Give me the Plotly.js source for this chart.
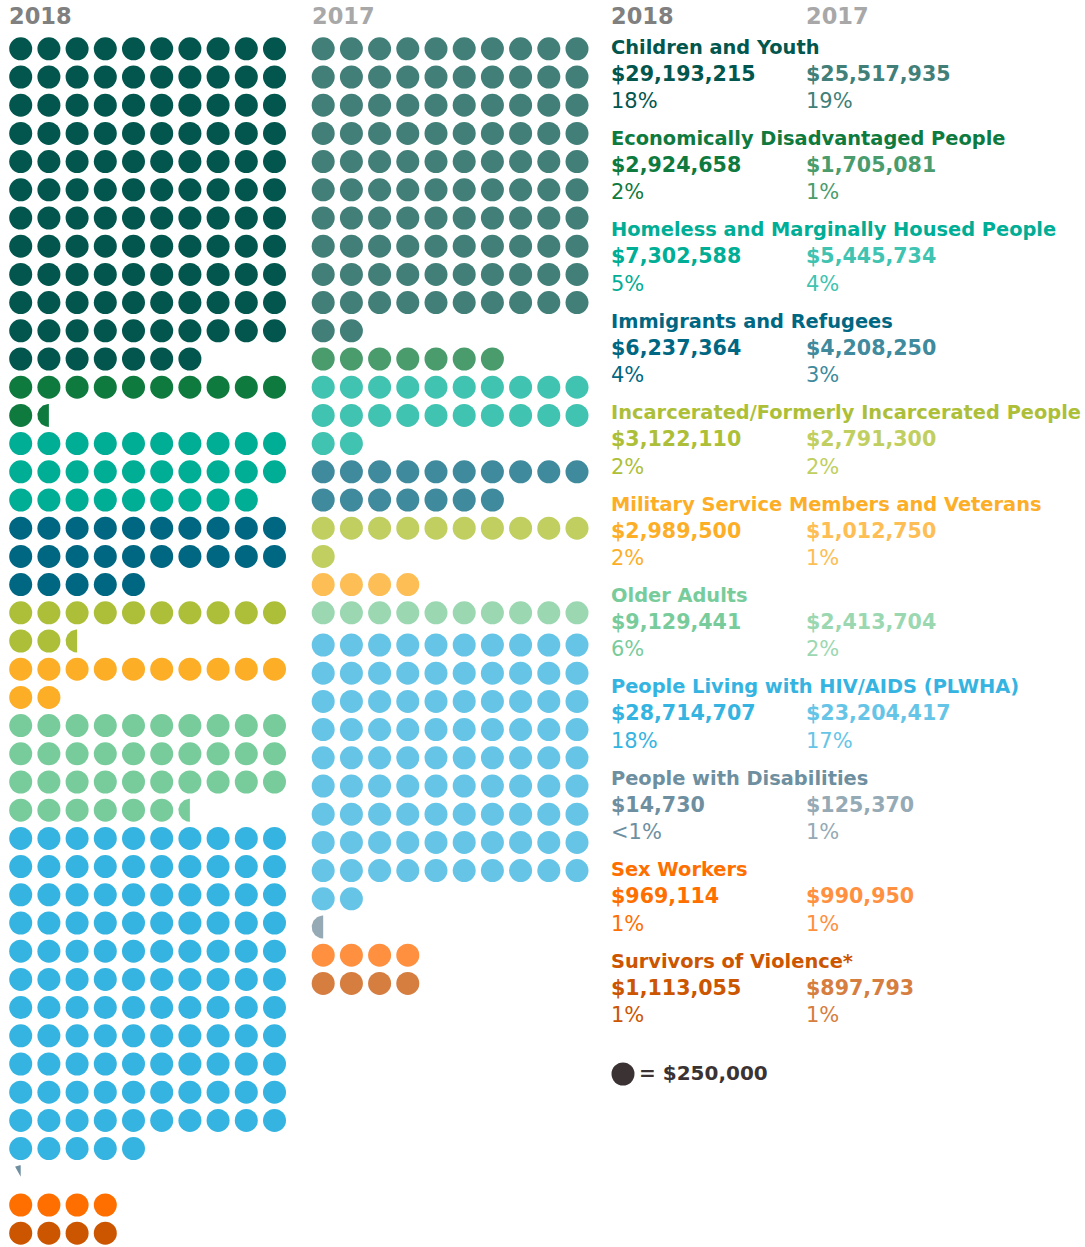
<!DOCTYPE html>
<html><head><meta charset="utf-8">
<script src="https://cdn.plot.ly/plotly-3.0.1.min.js"></script>
<style>html,body{margin:0;padding:0;background:#fff}#chart{width:1085px;height:1247px}</style>
</head><body><div id="chart"></div>
<script>
// ---- data ----
const categories = ["Children and Youth","Economically Disadvantaged People","Homeless and Marginally Housed People","Immigrants and Refugees","Incarcerated/Formerly Incarcerated People","Military Service Members and Veterans","Older Adults","People Living with HIV/AIDS (PLWHA)","People with Disabilities","Sex Workers","Survivors of Violence*"];
const amounts2018 = [29193215, 2924658, 7302588, 6237364, 3122110, 2989500, 9129441, 28714707, 14730, 969114, 1113055];
const amounts2017 = [25517935, 1705081, 5445734, 4208250, 2791300, 1012750, 2413704, 23204417, 125370, 990950, 897793];
const pct2018 = ["18%","2%","5%","4%","2%","2%","6%","18%","<1%","1%","1%"];
const pct2017 = ["19%","1%","4%","3%","2%","1%","2%","17%","1%","1%","1%"];
// dots as drawn in the picture (1 dot = $250,000; fractional part = partial dot)
const dots2018 = [117, 11.5, 29, 25, 12.5, 12, 36.5, 115, 0.08, 4, 4];
const dots2017 = [102, 7, 22, 17, 11, 4, 10, 92, 0.5, 4, 4];
const colors2018 = ["#02564d","#0f7a3e","#00ad95","#006783","#adbf38","#fdae27","#78cc9b","#36b4e1","#6e8fa0","#ff6f00","#cc5500"];
const colors2017 = ["#417f78","#4a9c6d","#40c3b0","#3f8a9d","#c0cf60","#fdbe55","#9bd8b1","#66c5e7","#95aab5","#ff9040","#d67d40"];
const unitLabel = "= $250,000";
const yearLabels = ["2018","2017"];

// ---- layout constants ----
const W = 1085, H = 1247;
const STEP = 28.2, D = 23, R = D/2;
const Y0 = 48.8;
const X0 = {"2018": 20.7, "2017": 323.2};
// extra vertical gap (px) inserted before a category's block, per column
const GAP = {"2018": {}, "2017": {7: 4}};
const FONT = "DejaVu Sans, Verdana, sans-serif";

const traces = [];
const fmt = v => "$" + v.toLocaleString("en-US");

function buildYear(year, dots, colors) {
  let row = 0, extra = 0;
  dots.forEach((n, ci) => {
    extra += (GAP[year][ci] || 0);
    const full = Math.floor(n + 1e-9);
    const frac = n - full;
    const xs = [], ys = [];
    for (let i = 0; i < full; i++) {
      xs.push(X0[year] + (i % 10) * STEP);
      ys.push(Y0 + extra + (row + Math.floor(i / 10)) * STEP);
    }
    traces.push({type:"scatter", mode:"markers", x:xs, y:ys, hoverinfo:"skip",
      marker:{size:D, color:colors[ci], line:{width:0}}});
    if (frac > 0.001) {
      const cx = X0[year] + (full % 10) * STEP;
      const cy = Y0 + extra + (row + Math.floor(full / 10)) * STEP;
      const px = [cx], py = [cy];
      const steps = 40;
      for (let k = 0; k <= steps; k++) {
        const t = 2 * Math.PI * frac * k / steps;
        px.push(cx - R * Math.sin(t));
        py.push(cy - R * Math.cos(t));
      }
      px.push(cx); py.push(cy);
      traces.push({type:"scatter", mode:"lines", x:px, y:py, fill:"toself",
        fillcolor:colors[ci], line:{width:0, color:colors[ci]}, hoverinfo:"skip"});
    }
    row += Math.ceil(n / 10 - 1e-9) || 1;
  });
}
buildYear("2018", dots2018, colors2018);
buildYear("2017", dots2017, colors2017);

// legend dot
traces.push({type:"scatter", mode:"markers", x:[623], y:[1074], hoverinfo:"skip",
  marker:{size:D, color:"#3b3333", line:{width:0}}});

const ann = [];
function txt(x, y, text, size, color, bold) {
  ann.push({xref:"x", yref:"y", x:x, y:y, xanchor:"left", yanchor:"middle", showarrow:false,
    text: bold ? "<b>" + text + "</b>" : text, font:{family:FONT, size:size, color:color}});
}
// year headers
txt(7, 16, yearLabels[0], 22.5, "#808080", true);
txt(310, 16, yearLabels[1], 22.5, "#a8a8a8", true);
txt(609, 16, yearLabels[0], 22.5, "#808080", true);
txt(804, 16, yearLabels[1], 22.5, "#a8a8a8", true);

const BY0 = 47, BSTEP = 91.4;
categories.forEach((c, i) => {
  const y = BY0 + i * BSTEP;
  txt(609, y, c, 19.4, colors2018[i], true);
  txt(609, y + 26.5, fmt(amounts2018[i]), 20.6, colors2018[i], true);
  txt(804, y + 26.5, fmt(amounts2017[i]), 20.6, colors2017[i], true);
  txt(609, y + 54, pct2018[i], 21, colors2018[i], false);
  txt(804, y + 54, pct2017[i], 21, colors2017[i], false);
});
txt(637, 1073, unitLabel, 20, "#3b3333", true);

const layout = {
  width: W, height: H, margin:{l:0,r:0,t:0,b:0,pad:0},
  paper_bgcolor:"#ffffff", plot_bgcolor:"#ffffff", showlegend:false,
  xaxis:{range:[0,W], visible:false, fixedrange:true},
  yaxis:{range:[H,0], visible:false, fixedrange:true},
  annotations: ann
};
Plotly.newPlot("chart", traces, layout, {displayModeBar:false, staticPlot:true});
</script></body></html>
